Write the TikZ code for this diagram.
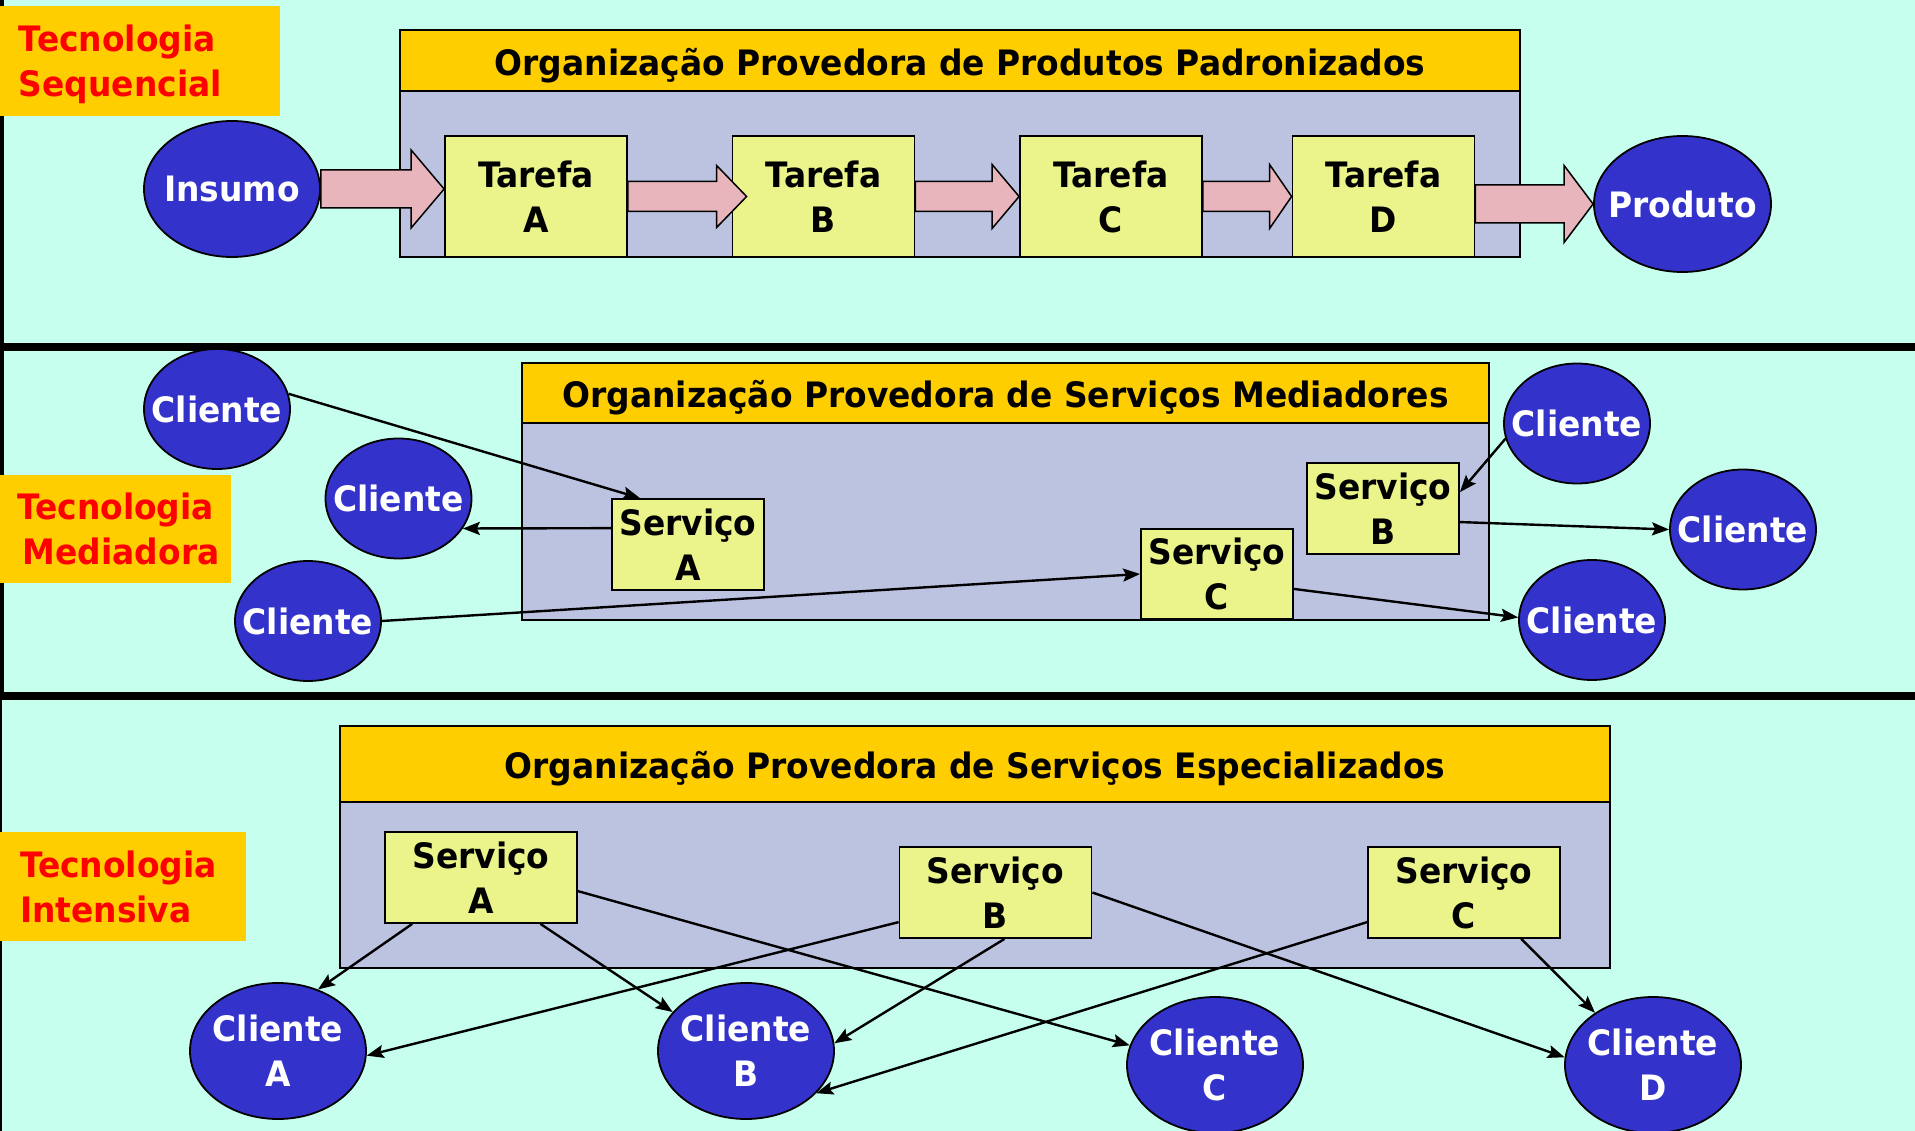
\documentclass[tikz,border=0pt]{standalone}
\usepackage{fontspec}
\setmainfont{DejaVu Sans}[FakeStretch=0.94]
\usetikzlibrary{shapes.geometric,arrows.meta,calc}

\definecolor{bgmint}{HTML}{C6FFEE}
\definecolor{gold}{HTML}{FFCE00}
\definecolor{lavender}{HTML}{BCC3E0}
\definecolor{paleyellow}{HTML}{EBF48A}
\definecolor{royal}{HTML}{3333CC}
\definecolor{arrowpink}{HTML}{E8B5BD}

% block arrow: start, tip, shaft half, head half, head length
\newcommand{\pinkarrow}[5]{%
  \draw[line width=1.5pt,fill=arrowpink]
    ($(#1)+(0,-#3)$) -- ($(#2)+(-#5,-#3)$) -- ($(#2)+(-#5,-#4)$) -- (#2)
    -- ($(#2)+(-#5,#4)$) -- ($(#2)+(-#5,#3)$) -- ($(#1)+(0,#3)$) -- cycle;}

\begin{document}
\begin{tikzpicture}[x=1pt,y=-1pt,
    txt/.style={font=\fontsize{35}{45}\selectfont\bfseries},
    tecbox/.style={rectangle,fill=gold,txt,text=red,inner sep=0pt},
    orghead/.style={rectangle,draw,line width=1.8pt,fill=gold,txt,inner sep=0pt,
                    text height=29.5pt,text depth=0pt},
    orgbody/.style={rectangle,draw,line width=1.8pt,fill=lavender,inner sep=0pt},
    task/.style={rectangle,draw,line width=1.8pt,fill=paleyellow,txt,align=center,inner sep=0pt},
    tarefa/.style={task,minimum width=182pt,minimum height=121pt},
    msrv/.style={task,minimum width=152pt,minimum height=91pt},
    bsrv/.style={task,minimum width=192pt,minimum height=91pt},
    cli/.style={ellipse,draw,line width=1.8pt,fill=royal,inner sep=0pt,
                minimum width=176pt,minimum height=136pt,
                label={[txt,text=white,align=center]center:#1}},
    mcli/.style={cli=Cliente,minimum width=146pt,minimum height=120pt},
    link/.style={line width=2.4pt,-{Stealth[length=17pt,width=13pt,inset=3pt]}}]
  \useasboundingbox (0,0) rectangle (1915,1131);
  \fill[bgmint] (0,0) rectangle (1915,1131);
  \draw[line width=8pt] (0,347) -- (1915,347);
  \draw[line width=8pt] (0,696) -- (1915,696);
  \draw[line width=4pt] (2,0) -- (2,696);
  \draw[line width=1.5pt] (1,696) -- (1,1131);

  % sequencial
  \node (tseq) at (140,61) [tecbox,minimum width=280pt,minimum height=110pt,
        text width=242pt,inner xsep=19pt,align=left] {Tecnologia\\\smash{Sequencial}};
  \node (org1) at (960,60.5) [orghead,minimum width=1120pt,minimum height=61pt]
        {Organização Provedora de Produtos Padronizados};
  \node (bod1) at (960,174) [orgbody,minimum width=1120pt,minimum height=166pt] {};
  \node (ta) at (536,196.5) [tarefa] {Tarefa\\A};
  \node (tb) at (823.5,196.5) [tarefa] {Tarefa\\B};
  \node (tc) at (1111,196.5) [tarefa] {Tarefa\\C};
  \node (td) at (1383.5,196.5) [tarefa] {Tarefa\\D};
  \node (ins) at (232,189) [cli=Insumo] {};
  \node (prod) at (1682.5,204) [cli=Produto,minimum width=177pt] {};
  \coordinate (ina) at (ta.west |- ins.center);
  \coordinate (inb) at ($(tb.west)+(15,0)$);
  \coordinate (dout) at (td.east |- prod.center);
  \pinkarrow{ins.east}{ina}{19}{39}{33}
  \pinkarrow{ta.east}{inb}{15}{31}{30}
  \pinkarrow{tb.east}{tc.west}{15}{32}{27}
  \pinkarrow{tc.east}{td.west}{15}{32}{22}
  \pinkarrow{dout}{prod.west}{19}{38.5}{29}

  % mediadora
  \node (tmed) at (115.5,529) [tecbox,minimum width=231pt,minimum height=108pt,
        align=center] {Tecnologia\\\ Mediadora};
  \node (org2) at (1005.5,393) [orghead,minimum width=967pt,minimum height=60pt]
        {Organização Provedora de Serviços Mediadores};
  \node (bod2) at (1005.5,521.5) [orgbody,minimum width=967pt,minimum height=197pt] {};
  \node (msa) at (688,544.5) [msrv] {Serviço\\A};
  \node (msb) at (1383,508.5) [msrv] {Serviço\\B};
  \node (msc) at (1217,574) [msrv,minimum height=90pt] {Serviço\\C};
  \node (mc1) at (217,409) [mcli] {};
  \node (mc2) at (398.5,498.5) [mcli] {};
  \node (mc3) at (308,621) [mcli] {};
  \node (mc4) at (1577,423.5) [mcli] {};
  \node (mc5) at (1743,529.5) [mcli] {};
  \node (mc6) at (1592,620) [mcli] {};
  \draw (mc1.12) edge[link] (msa.136);
  \draw (msa.168) edge[link] (mc2.-25);
  \draw (mc3.east) edge[link] (msc.west);
  \draw (mc4.192) edge[link] (msb.12);
  \draw (msb.-10) edge[link] (mc5.west);
  \draw (msc.-11) edge[link] (mc6.178);

  % intensiva
  \node (tint) at (123,886.5) [tecbox,minimum width=246pt,minimum height=109pt,
        text width=206pt,inner xsep=20pt,align=left] {Tecnologia\\Intensiva};
  \node (org3) at (975,764) [orghead,minimum width=1270pt,minimum height=76pt]
        {Organização Provedora de Serviços Especializados};
  \node (bod3) at (975,885) [orgbody,minimum width=1270pt,minimum height=166pt] {};
  \node (bsa) at (481,877.5) [bsrv] {Serviço\\A};
  \node (bsb) at (995.5,892.5) [bsrv] {Serviço\\B};
  \node (bsc) at (1464,892.5) [bsrv] {Serviço\\C};
  \node (bca) at (278,1051) [cli={Cliente\\A}] {};
  \node (bcb) at (746,1051) [cli={Cliente\\B}] {};
  \node (bcc) at (1215,1065) [cli={Cliente\\C}] {};
  \node (bcd) at (1653,1065) [cli={Cliente\\D}] {};
  \draw (bsa.214.6) edge[link] (bca.57);
  \draw (bsa.-38.6) edge[link] (bcb.152.8);
  \draw (bsa.-8) edge[link] (bcc.167.5);
  \draw (bsb.197) edge[link] (bca.-3.7);
  \draw (bsb.-79.4) edge[link] (bcb.5.4);
  \draw (bsb.east) edge[link] (bcd.175.5);
  \draw (bsc.197.6) edge[link] (bcb.-31);
  \draw (bsc.-39.6) edge[link] (bcd.138.5);
\end{tikzpicture}
\end{document}
